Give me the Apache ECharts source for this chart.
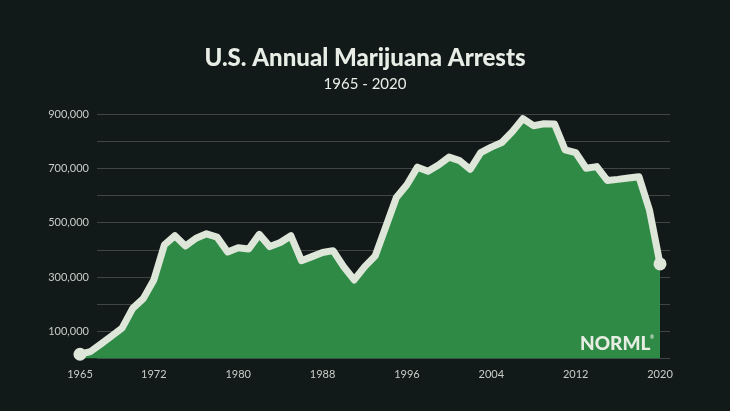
<!DOCTYPE html>
<html>
<head>
<meta charset="utf-8">
<script src="https://cdn.jsdelivr.net/npm/echarts@6/dist/echarts.min.js"></script>
<style>
html,body{margin:0;padding:0;background:#121a19;}
#chart{width:730px;height:411px;}
</style>
</head>
<body>
<div id="chart"></div>
<script>
const years = [1965,1966,1967,1968,1969,1970,1971,1972,1973,1974,1975,1976,1977,1978,1979,
  1980,1981,1982,1983,1984,1985,1986,1987,1988,1989,1990,1991,1992,1993,1994,1995,1996,1997,
  1998,1999,2000,2001,2002,2003,2004,2005,2006,2007,2008,2009,2010,2011,2012,2013,2014,2015,
  2016,2017,2018,2019,2020];
const arrests = [15000,25000,53000,82000,112000,184000,220000,289000,418000,452000,414000,443000,459000,447000,392000,
  408000,403000,457000,412000,427000,452000,360000,375000,390000,397000,338000,289000,338000,378000,485000,593000,640000,705000,
  690000,713000,742000,729000,697000,759000,779000,796000,836000,884000,858000,865000,864000,769000,759000,701000,707000,656000,
  660000,665000,670000,547000,348000];
const xTickLabels = [1965,1972,1980,1988,1996,2004,2012,2020];
const yTicks = [0,100000,200000,300000,400000,500000,600000,700000,800000,900000];
const yLabeled = [100000,300000,500000,700000,900000];

const chart = echarts.init(document.getElementById('chart'));
const lineColor = '#dde6d9';
const seriesData = years.map((y, i) => {
  const item = { value: [y, arrests[i]] };
  if (i === 0 || i === years.length - 1) {
    item.symbol = 'circle';
    item.symbolSize = 13;
  }
  return item;
});

chart.setOption({
  backgroundColor: '#121a19',
  animation: false,
  title: [
    { text: 'U.S. Annual Marijuana Arrests', left: 'center', top: 41,
      textStyle: { color: '#e8ede6', fontSize: 24, fontWeight: 900, fontFamily: 'Lato' } },
    { text: '1965 - 2020', left: 'center', top: 72,
      textStyle: { color: '#e8ede6', fontSize: 15, fontWeight: 'normal', fontFamily: 'Lato' } }
  ],
  grid: [
    { left: 97, right: 60, top: 114.3, bottom: 52.7 },
    { left: 80, right: 60, top: 114.3, bottom: 52.7 }
  ],
  xAxis: [
    { gridIndex: 0, type: 'value', min: 0, max: 1, show: false },
    { gridIndex: 1, type: 'value', min: years[0], max: 2020.948,
      axisLine: { show: false }, axisTick: { show: false }, splitLine: { show: false },
      axisLabel: { customValues: xTickLabels, color: '#c8ccc8', fontSize: 11, fontFamily: 'Lato', margin: 11,
        formatter: v => String(v) } }
  ],
  yAxis: [
    { gridIndex: 0, type: 'value', min: yTicks[0], max: yTicks[yTicks.length - 1], interval: 100000,
      axisLine: { show: false }, axisTick: { show: false },
      splitLine: { lineStyle: { color: '#3e4543', width: 1.2 } },
      axisLabel: { color: '#c8ccc8', fontSize: 11, fontFamily: 'Lato', margin: 8,
        formatter: v => yLabeled.indexOf(v) >= 0 ? v.toLocaleString('en-US') : '' } },
    { gridIndex: 1, type: 'value', min: yTicks[0], max: yTicks[yTicks.length - 1], show: false }
  ],
  series: [{
    type: 'line',
    xAxisIndex: 1, yAxisIndex: 1,
    data: seriesData,
    symbol: 'none',
    showSymbol: true,
    itemStyle: { color: lineColor },
    lineStyle: { color: lineColor, width: 7, cap: 'round', join: 'round' },
    areaStyle: { color: '#2f8a45', opacity: 1, origin: 'start' },
    z: 3
  }],
  graphic: [
    { type: 'text', left: 580, top: 334, z: 10,
      style: { text: 'NORML', fill: '#e6ede3', font: '900 19px Lato' } },
    { type: 'text', left: 650, top: 335, z: 10,
      style: { text: '®', fill: '#e6ede3', font: 'bold 5px Lato' } }
  ]
});
</script>
</body>
</html>
